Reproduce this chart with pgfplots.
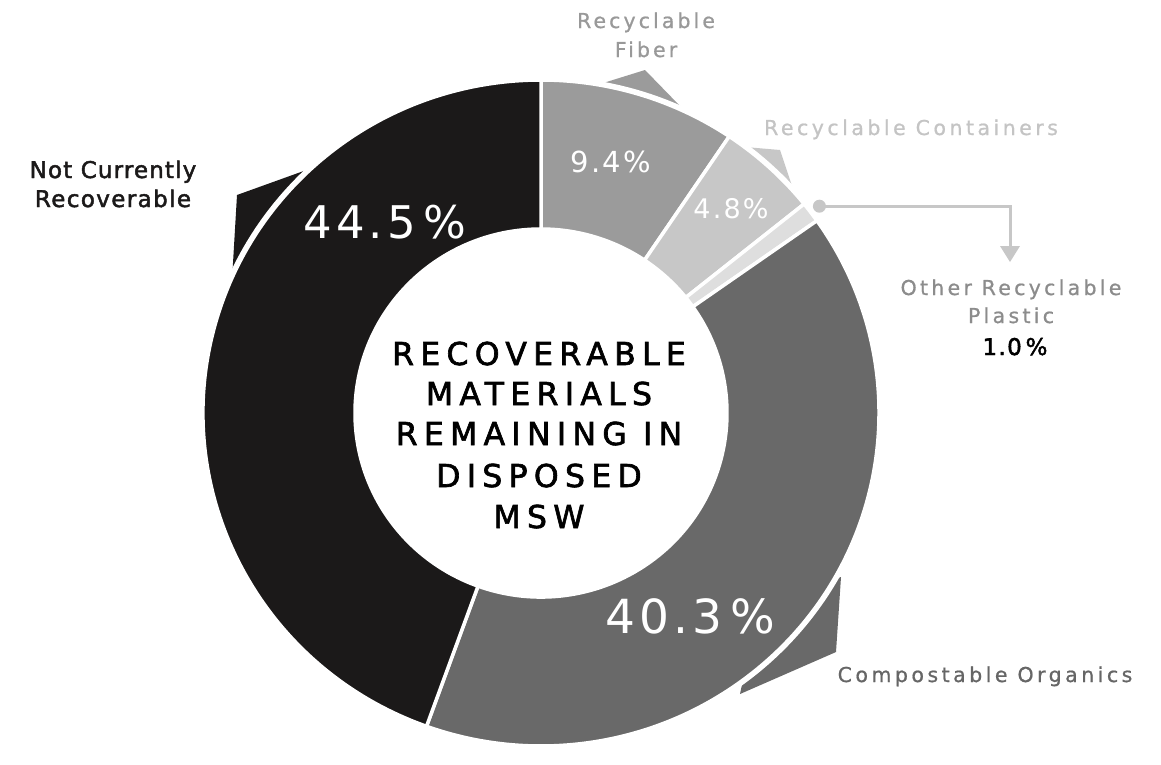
\documentclass[border=0pt]{standalone}
\usepackage{fontspec}
\setmainfont{DejaVu Sans}
\usepackage{pgfplots}
\usepackage{pgfplotstable}
\pgfplotsset{compat=1.18}
\definecolor{cFiber}{HTML}{9B9B9B}
\definecolor{cCont}{HTML}{C7C7C7}
\definecolor{cPlast}{HTML}{DEDEDE}
\definecolor{cComp}{HTML}{696969}
\definecolor{cNot}{HTML}{1B1919}
\definecolor{cFiberT}{HTML}{999999}
\definecolor{cContT}{HTML}{C4C4C4}
\definecolor{cOtherT}{HTML}{8C8C8C}
\definecolor{cCompT}{HTML}{666666}
\pgfplotstableread{
label pct
Fiber 9.4
Containers 4.8
Plastic 1.0
Organics 40.3
NotRecoverable 44.5
}\datatable
\pgfplotstablegetelem{0}{pct}\of\datatable \let\pA\pgfplotsretval
\pgfplotstablegetelem{1}{pct}\of\datatable \let\pB\pgfplotsretval
\pgfplotstablegetelem{2}{pct}\of\datatable \let\pC\pgfplotsretval
\pgfplotstablegetelem{3}{pct}\of\datatable \let\pD\pgfplotsretval
\pgfplotstablegetelem{4}{pct}\of\datatable \let\pE\pgfplotsretval
\pgfmathsetmacro\aA{90}
\pgfmathsetmacro\aB{\aA-3.6*\pA}
\pgfmathsetmacro\aC{\aB-3.6*\pB}
\pgfmathsetmacro\aD{\aC-3.6*\pC}
\pgfmathsetmacro\aE{\aD-3.6*\pD}
\pgfmathsetmacro\aF{\aE-3.6*\pE}
\pgfmathsetmacro\aMid{(\aC+\aD)/2}
\newcommand\ff[2]{\fontsize{#1}{#1}\selectfont\addfontfeature{LetterSpace=#2}}
\newcommand\fb[3]{\fontsize{#1}{#1}\selectfont\addfontfeature{LetterSpace=#2,FakeBold=#3}}
\newcommand\seg[3]{%
  \fill[#3,draw=white,line width=3.5pt,shift={(axis cs:541,413)}]
    (#1:338pt and 333pt) arc[start angle=#1,end angle=#2,x radius=338pt,y radius=333pt]
    -- (#2:186pt and 184pt) arc[start angle=#2,end angle=#1,x radius=186pt,y radius=184pt] -- cycle;}
\begin{document}%
\begin{tikzpicture}
\begin{axis}[width=1161pt,height=749pt,scale only axis,hide axis,
  xmin=0,xmax=1161,ymin=0,ymax=749,y dir=reverse,clip=false]
\path[fill=white] (rel axis cs:0,0) rectangle (rel axis cs:1,1);
% callout wedges behind the ring
\fill[cFiber] (axis cs:600,84) -- (axis cs:645,70) -- (axis cs:680,106) -- (axis cs:640,150) -- cycle;
\fill[cCont] (axis cs:745,147) -- (axis cs:780,150) -- (axis cs:792,186) -- (axis cs:740,200) -- cycle;
\fill[cNot] (axis cs:312,168) -- (axis cs:237,195) -- (axis cs:232,280) -- (axis cs:320,260) -- cycle;
\fill[cComp] (axis cs:841,577) -- (axis cs:836,652) -- (axis cs:740,694) -- (axis cs:760,600) -- cycle;
\draw[white,line width=3.5pt,shift={(axis cs:541,413)}] (0,0) ellipse[x radius=340pt,y radius=335pt];
% ring segments
\seg{\aA}{\aB}{cFiber}
\seg{\aB}{\aC}{cCont}
\seg{\aC}{\aD}{cPlast}
\seg{\aD}{\aE}{cComp}
\seg{\aE}{\aF}{cNot}
% pointer for the small segment
\path[shift={(axis cs:541,413)}] (\aMid:349pt and 343pt) coordinate (dot);
\fill[cCont] (dot) circle[radius=6.5pt];
\draw[cCont,line width=3pt] (dot) -| (axis cs:1010,250);
\fill[cCont] (axis cs:1000,246) -- (axis cs:1020,246) -- (axis cs:1010,262) -- cycle;
% outside labels
\node[anchor=base,text=cFiberT,font=\fb{20.5}{15}{0.8}] at (axis cs:646,28) {Recyclable};
\node[anchor=base,text=cFiberT,font=\fb{20.5}{15}{0.8}] at (axis cs:646,57) {Fiber};
\node[anchor=base,text=cContT,font=\fb{20.5}{17}{0.8}] at (axis cs:911,135) {Recyclable Containers};
\node[anchor=base,text=cOtherT,font=\fb{20.5}{16}{0.8}] at (axis cs:1011,295) {Other Recyclable};
\node[anchor=base,text=cOtherT,font=\fb{20.5}{16}{0.8}] at (axis cs:1011,323) {Plastic};
\node[anchor=base,text=black,font=\fb{23}{6}{2}] at (axis cs:1015,355) {1.0\,\%};
\node[anchor=base,text=cCompT,font=\fb{20.5}{17}{0.8}] at (axis cs:985,682) {Compostable Organics};
\node[anchor=base,text=cNot,font=\fb{23}{5}{2}] at (axis cs:113,178) {Not Currently};
\node[anchor=base,text=cNot,font=\fb{23}{6}{2}] at (axis cs:113,207) {Recoverable};
% percentages on the ring
\node[anchor=base,text=white,font=\ff{29}{8}] at (axis cs:611,172) {9.4\%};
\node[anchor=base,text=white,font=\ff{27}{8}] at (axis cs:731,218) {4.8\%};
\node[anchor=base,text=white,font=\ff{45}{9}] at (axis cs:385,238) {44.5\,\%};
\node[anchor=base,text=white,font=\ff{47}{9}] at (axis cs:690,633) {40.3\,\%};
% centre title
\node[anchor=base,text=black,font=\fb{31.5}{20}{2}] at (axis cs:539,365) {RECOVERABLE};
\node[anchor=base,text=black,font=\fb{31.5}{20}{2}] at (axis cs:539,405) {MATERIALS};
\node[anchor=base,text=black,font=\fb{31.5}{20}{2}] at (axis cs:539,445) {REMAINING IN};
\node[anchor=base,text=black,font=\fb{31.5}{20}{2}] at (axis cs:539,487) {DISPOSED};
\node[anchor=base,text=black,font=\fb{31.5}{20}{2}] at (axis cs:539,528) {MSW};
\end{axis}
\end{tikzpicture}%
\end{document}
